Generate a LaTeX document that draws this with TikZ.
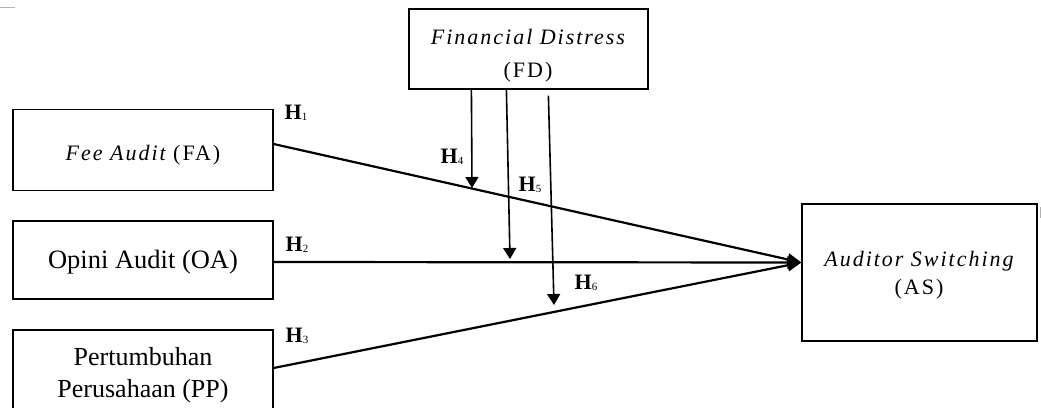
\documentclass[tikz,border=0pt]{standalone}
\usepackage{fontspec}
\setmainfont{Liberation Serif}
\newfontfamily\lsfont[LetterSpace=9]{Liberation Serif}
\usetikzlibrary{arrows.meta}
\newcommand{\hyp}[1]{{\fontsize{22}{24}\selectfont\bfseries H}\raisebox{-1.5pt}{\fontsize{11}{11}\selectfont #1}}
\begin{document}
\begin{tikzpicture}[x=1pt,y=-1pt,
  box/.style={draw, line width=1.2pt, inner sep=0pt},
  txt/.style={inner sep=0pt, align=center},
  link/.style={line width=2.2pt, -{Triangle[length=14pt,width=12pt]}},
  mod/.style={line width=1.6pt, -{Triangle[length=11pt,width=13pt]}},
  hl/.style={inner sep=0pt},
  spaced/.style={font=\lsfont\fontsize{22}{28}\selectfont}]
\useasboundingbox (0,0) rectangle (1041,407);
\clip (0,0) rectangle (1041,407);
\draw[gray!60, line width=1pt] (0,7) -- (15,7);
\draw[gray!60, line width=0.8pt] (1040,207) -- (1040,218);
% boxes
\node[box, minimum width=260pt, minimum height=81pt] (fa) at (143,150) {};
\node[txt, spaced] (fat) at (143,155) {\itshape Fee Audit \upshape(FA)};
\node[box, minimum width=260pt, minimum height=78pt] (oa) at (143,260) {};
\node[txt, font=\fontsize{26.5}{30}\selectfont] (oat) at (143,262) {Opini Audit (OA)};
\node[box, minimum width=260pt, minimum height=90pt] (pp) at (143,375) {};
\node[txt, font=\fontsize{26}{32}\selectfont] (ppt) at (143,375) {Pertumbuhan\\Perusahaan (PP)};
\node[box, minimum width=239pt, minimum height=80pt] (fd) at (528.5,49) {};
\node[txt, font=\lsfont\fontsize{22}{33}\selectfont] (fdt) at (528,56) {\itshape Financial Distress\\\upshape(FD)};
\node[box, minimum width=235pt, minimum height=137pt] (as) at (919.5,272.5) {};
\node[txt, spaced] (ast) at (919,275) {\itshape Auditor Switching\\\upshape(AS)};
% main paths
\coordinate (tip) at ([yshift=10pt]as.west);
\draw[link] ([yshift=6pt]fa.east) -- (tip);
\draw[link] ([yshift=-2pt]oa.east) -- (tip);
\draw[link] ([yshift=7pt]pp.east) -- (tip);
% moderating arrows
\coordinate (m4) at (472,188);
\coordinate (m5) at (510,259);
\coordinate (m6) at (554,305);
\draw[mod] ([xshift=63pt]fd.south west) -- (m4);
\draw[mod] ([xshift=98pt]fd.south west) -- (m5);
\draw[mod] ([xshift=140pt,yshift=-6pt]fd.south west) -- (m6);
% hypothesis labels
\node[hl] (h1) at (296,113) {\hyp{1}};
\node[hl] (h2) at (297,245) {\hyp{2}};
\node[hl] (h3) at (297,336) {\hyp{3}};
\node[hl] (h4) at (452,157) {\hyp{4}};
\node[hl] (h5) at (530,185) {\hyp{5}};
\node[hl] (h6) at (586,283) {\hyp{6}};
\end{tikzpicture}
\end{document}
